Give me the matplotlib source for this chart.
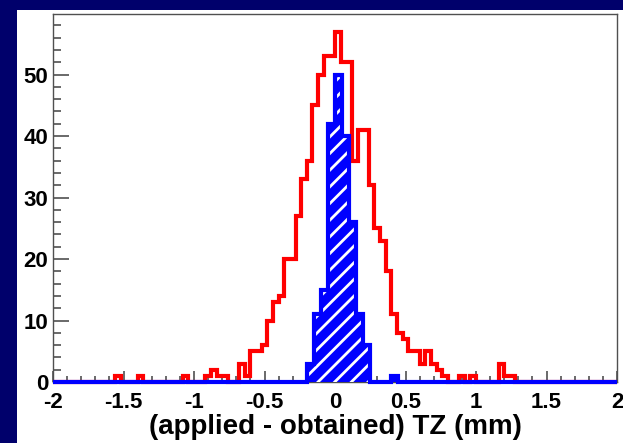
import matplotlib
matplotlib.use("Agg")
import matplotlib.pyplot as plt
import numpy as np
from matplotlib.patches import Rectangle
from matplotlib.ticker import MultipleLocator, FuncFormatter

# red histogram: 100 bins over [-2, 2]
red_lo, red_hi, red_nbins = -2.0, 2.0, 100
red_counts = [
    0, 0, 0, 0, 0, 0, 0, 0, 0, 0,
    0, 1, 0, 0, 0, 1, 0, 0, 0, 0,
    0, 0, 0, 1, 0, 0, 0, 1, 2, 1,
    1, 0, 0, 3, 1, 5, 5, 6, 10, 13,
    14, 20, 20, 27, 33, 36, 45, 50, 53, 53,
    57, 52, 52, 36, 41, 41, 32, 25, 23, 18,
    11, 8, 7, 5, 5, 3, 5, 3, 2, 1,
    0, 0, 1, 0, 1, 0, 0, 0, 0, 3,
    1, 1, 0, 0, 0, 0, 0, 0, 0, 0,
    0, 0, 0, 0, 0, 0, 0, 0, 0, 0,
]

# blue (hatched) histogram: 80 bins over [-2, 2]
blue_lo, blue_hi, blue_nbins = -2.0, 2.0, 80
blue_counts = [
    0, 0, 0, 0, 0, 0, 0, 0, 0, 0,
    0, 0, 0, 0, 0, 0, 0, 0, 0, 0,
    0, 0, 0, 0, 0, 0, 0, 0, 0, 0,
    0, 0, 0, 0, 0, 0, 3, 11, 15, 42,
    50, 40, 26, 11, 6, 0, 0, 0, 1, 0,
    0, 0, 0, 0, 0, 0, 0, 0, 0, 0,
    0, 0, 0, 0, 0, 0, 0, 0, 0, 0,
    0, 0, 0, 0, 0, 0, 0, 0, 0, 0,
]

x_label = "(applied - obtained) TZ (mm)"

navy = "#00006b"
red = "#ff0000"
blue = "#0000ff"
frame_gray = "#505050"

plt.rcParams["font.family"] = ["Liberation Sans", "DejaVu Sans"]
plt.rcParams["font.weight"] = "bold"
plt.rcParams["hatch.color"] = "white"
plt.rcParams["hatch.linewidth"] = 2.0

W, H = 623, 443
fig = plt.figure(figsize=(W / 100, H / 100), dpi=100, facecolor=navy)

# white slide panel behind the plot
fig.patches.append(
    Rectangle((17 / W, 0), 1, 1 - 10 / H, transform=fig.transFigure,
              facecolor="white", edgecolor="none", zorder=-5)
)

ax = fig.add_axes([53 / W, 1 - 382 / H, (617 - 53) / W, (382 - 14) / H])
ax.set_zorder(2)
ax.set_facecolor("white")

red_edges = np.linspace(red_lo, red_hi, red_nbins + 1)
blue_edges = np.linspace(blue_lo, blue_hi, blue_nbins + 1)

ax.stairs(red_counts, red_edges, color=red, linewidth=3.0, clip_on=False, zorder=3)

# hatched fill, then solid outline on top
ax.stairs(blue_counts, blue_edges, fill=True, facecolor=blue, edgecolor="white",
          hatch="//", linewidth=0, zorder=4)
ax.stairs(blue_counts, blue_edges, color=blue, linewidth=3.0, clip_on=False, zorder=5)

ax.set_xlim(-2, 2)
ax.set_ylim(0, 1.05 * max(red_counts))

ax.xaxis.set_major_locator(MultipleLocator(0.5))
ax.xaxis.set_minor_locator(MultipleLocator(0.1))
ax.yaxis.set_major_locator(MultipleLocator(10))
ax.yaxis.set_minor_locator(MultipleLocator(2))
ax.xaxis.set_major_formatter(FuncFormatter(lambda v, p: f"{v:g}"))
ax.yaxis.set_major_formatter(FuncFormatter(lambda v, p: f"{v:g}"))

ax.tick_params(which="both", direction="in", top=False, right=False,
               color=frame_gray, width=1.2, labelsize=16)
ax.tick_params(axis="y", which="major", length=11.5, pad=3.5)
ax.tick_params(axis="y", which="minor", length=5.8)
ax.tick_params(axis="x", which="major", length=8, pad=7.5)
ax.tick_params(axis="x", which="minor", length=4)

for s in ax.spines.values():
    s.set_color(frame_gray)
    s.set_linewidth(1.0)

ax.set_xlabel(x_label, fontsize=20, fontweight="bold")
ax.xaxis.set_label_coords(0.5, -0.086)

fig.savefig("out.png", dpi=100, facecolor=navy)
